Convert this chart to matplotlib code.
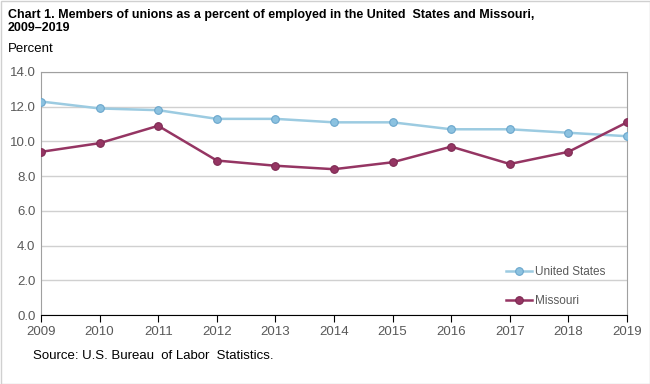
import matplotlib
matplotlib.use("Agg")
import matplotlib.pyplot as plt
from matplotlib.patches import Rectangle

years = [2009, 2010, 2011, 2012, 2013, 2014, 2015, 2016, 2017, 2018, 2019]
us_rate = [12.3, 11.9, 11.8, 11.3, 11.3, 11.1, 11.1, 10.7, 10.7, 10.5, 10.3]
mo_rate = [9.4, 9.9, 10.9, 8.9, 8.6, 8.4, 8.8, 9.7, 8.7, 9.4, 11.1]
yticks = [0, 2, 4, 6, 8, 10, 12, 14]

plt.rcParams['font.family'] = ['Liberation Sans', 'DejaVu Sans']

fig = plt.figure(figsize=(6.5, 3.84), dpi=100)
ax = fig.add_axes([41 / 650, 1 - 315 / 384, (627 - 41) / 650, (315 - 72) / 384])

ax.plot(years, us_rate, color='#9ccbe1', linewidth=1.8, marker='o', markersize=5.5,
        markerfacecolor='#8cc2e0', markeredgecolor='#6aa6cc', markeredgewidth=0.8,
        label='United States', zorder=3)
ax.plot(years, mo_rate, color='#953563', linewidth=1.8, marker='o', markersize=5.5,
        markerfacecolor='#953563', markeredgecolor='#7d2a52', markeredgewidth=0.8,
        label='Missouri', zorder=3)

ax.set_xlim(2009, 2019)
ax.set_ylim(0, 14)
ax.set_xticks(years)
ax.set_yticks(yticks)
ax.set_yticklabels([f'{v:.1f}' for v in yticks])
ax.grid(axis='y', color='#d0d0d0', linewidth=1)
ax.set_axisbelow(True)
for side in ['top', 'left', 'right']:
    ax.spines[side].set_color('#a0a0a0')
ax.spines['bottom'].set_color('black')
ax.tick_params(axis='x', direction='out', length=5, color='black', labelsize=9.5,
               labelcolor='#595959', pad=3)
ax.tick_params(axis='y', length=0, labelsize=9.5, labelcolor='#595959', pad=4)

leg = ax.legend(loc='lower right', bbox_to_anchor=(0.982, -0.01), frameon=False,
                fontsize=8.5, labelspacing=1.45, handlelength=2.2, handletextpad=0.3)
for t in leg.get_texts():
    t.set_color('#595959')

fig.text(8 / 650, 1 - 9 / 384, 'Chart 1. Members of unions as a percent of employed in the United  States and Missouri,\n2009\u20132019',
         fontsize=9, fontweight='bold', va='top', ha='left', linespacing=1.1)
fig.text(8 / 650, 1 - 43 / 384, 'Percent', fontsize=9.5, va='top', ha='left')
fig.text(33 / 650, 1 - 356 / 384, 'Source: U.S. Bureau  of Labor  Statistics.', fontsize=9.5,
         va='center', ha='left')

fig.patches.append(Rectangle((0.5 / 650, 0.5 / 384), 649 / 650, 383 / 384, transform=fig.transFigure,
                             fill=False, edgecolor='#d0d0d0', linewidth=1))

fig.savefig('out.png', dpi=100)
